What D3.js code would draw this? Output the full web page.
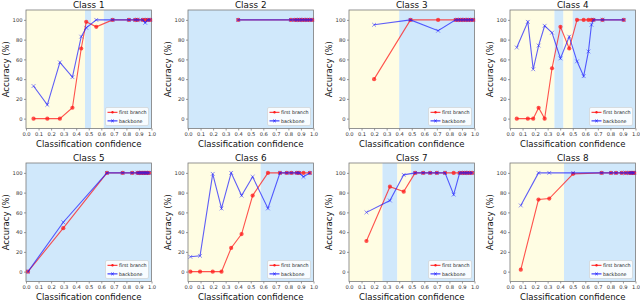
<!DOCTYPE html>
<html>
<head>
<meta charset="UTF-8">
<title>Accuracy vs classification confidence</title>
<style>
  body { margin: 0; background: #fff; font-family: "DejaVu Sans", sans-serif; }
  .tick text { fill: #333; }
</style>
</head>
<body>
<svg width="640" height="301"></svg>
<script src="https://d3js.org/d3.v7.min.js"></script>
<script>
// data
const classNames = ["Class 1", "Class 2", "Class 3", "Class 4", "Class 5", "Class 6", "Class 7", "Class 8"];
const seriesNames = ["first branch", "backbone"];
const xTicks = [0, 0.1, 0.2, 0.3, 0.4, 0.5, 0.6, 0.7, 0.8, 0.9, 1.0];
const yTicks = [0, 20, 40, 60, 80, 100];

const class1Conf = [0.06, 0.17, 0.27, 0.37, 0.44, 0.48, 0.56, 0.69, 0.82, 0.87, 0.89, 0.93, 0.95, 0.97, 0.99];
const class1First = [0, 0, 0, 11, 71, 98, 93, 100, 100, 100, 100, 100, 100, 100, 100];
const class1Backbone = [33, 14, 57, 42, 83, 92, 100, 100, 100, 100, 100, 100, 97, 100, 100];
const class1Bands = [[0, 0.47, "y"], [0.47, 0.52, "b"], [0.52, 0.62, "y"], [0.62, 1, "b"]];

const class2Conf = [0.4, 0.82, 0.85, 0.87, 0.89, 0.91, 0.93, 0.95, 0.97, 0.99];
const class2First = [100, 100, 100, 100, 100, 100, 100, 100, 100, 100];
const class2Backbone = [100, 100, 100, 100, 100, 100, 100, 100, 100, 100];
const class2Bands = [[0, 1, "b"]];

const class3Conf = [0.2, 0.49, 0.71, 0.85, 0.87, 0.89, 0.91, 0.93, 0.95, 0.97, 0.99];
const class3First = [40, 100, 100, 100, 100, 100, 100, 100, 100, 100, 100];
const class3Backbone = [95, 100, 89, 100, 100, 100, 100, 100, 100, 100, 100];
const class3Bands = [[0, 0.4, "y"], [0.4, 1, "b"]];

const class4Conf = [0.054, 0.142, 0.185, 0.228, 0.276, 0.335, 0.402, 0.472, 0.534, 0.587, 0.625, 0.649, 0.665, 0.737, 0.906];
const class4First = [0, 0, 0, 11, 0, 51, 93, 71, 100, 100, 100, 100, 100, 100, 100];
const class4Backbone = [72, 98, 50, 74, 94, 87, 61, 83, 58, 43, 68, 95, 100, 100, 100];
const class4Bands = [[0, 0.354, "y"], [0.354, 0.426, "b"], [0.426, 0.5, "y"], [0.5, 1, "b"]];

const class5Conf = [0.016, 0.297, 0.645, 0.77, 0.846, 0.889, 0.902, 0.916, 0.929, 0.942, 0.955, 0.968, 0.981];
const class5First = [0, 44, 100, 100, 100, 100, 100, 100, 100, 100, 100, 100, 100];
const class5Backbone = [0, 50, 100, 100, 100, 100, 100, 100, 100, 100, 100, 100, 100];
const class5Bands = [[0, 1, "b"]];

const class6Conf = [0.019, 0.096, 0.197, 0.267, 0.344, 0.427, 0.515, 0.637, 0.733, 0.787, 0.824, 0.867, 0.885, 0.92, 0.971];
const class6First = [0, 0, 0, 0, 24, 38, 77, 100, 100, 100, 100, 100, 100, 100, 100];
const class6Backbone = [15, 16, 99, 64, 100, 77, 96, 64, 100, 100, 100, 100, 100, 96, 100];
const class6Bands = [[0, 0.579, "y"], [0.579, 1, "b"]];

const class7Conf = [0.139, 0.326, 0.436, 0.527, 0.591, 0.647, 0.70, 0.765, 0.834, 0.882, 0.903, 0.922, 0.941, 0.96, 0.981];
const class7First = [31, 86, 81, 100, 100, 100, 100, 100, 100, 100, 100, 100, 100, 100, 100];
const class7Backbone = [60, 72, 98, 100, 100, 100, 100, 100, 78, 100, 100, 100, 100, 100, 100];
const class7Bands = [[0, 0.267, "y"], [0.267, 0.385, "b"], [0.385, 0.495, "y"], [0.495, 1, "b"]];

const class8Conf = [0.086, 0.227, 0.313, 0.503, 0.73, 0.805, 0.845, 0.89, 0.922, 0.949, 0.965, 0.979, 0.99];
const class8First = [2, 73, 74, 99, 100, 100, 100, 100, 100, 100, 100, 100, 100];
const class8Backbone = [67, 100, 100, 100, 100, 100, 100, 100, 100, 100, 100, 100, 100];
const class8Bands = [[0, 0.43, "y"], [0.43, 1, "b"]];

const allConf = [class1Conf, class2Conf, class3Conf, class4Conf, class5Conf, class6Conf, class7Conf, class8Conf];
const allFirst = [class1First, class2First, class3First, class4First, class5First, class6First, class7First, class8First];
const allBackbone = [class1Backbone, class2Backbone, class3Backbone, class4Backbone, class5Backbone, class6Backbone, class7Backbone, class8Backbone];
const allBands = [class1Bands, class2Bands, class3Bands, class4Bands, class5Bands, class6Bands, class7Bands, class8Bands];

// layout
const lefts = [26, 188, 349, 510];
const tops = [10, 163];
const pw = 125.5, ph = 118.5;
const bandColor = { y: "#fffde3", b: "#d0e8fb" };
const redC = "#ff1a1a", blueC = "#1a1aff";

const svg = d3.select("svg");

classNames.forEach((name, i) => {
    const col = i % 4, row = Math.floor(i / 4);
    const g = svg.append("g").attr("transform", `translate(${lefts[col]},${tops[row]})`);

    const x = d3.scaleLinear().domain([0, 1]).range([0, pw]);
    const y = d3.scaleLinear().domain([-10, 110]).range([ph, 0]);

    // background bands
    g.selectAll("rect.band").data(allBands[i]).enter().append("rect")
        .attr("class", "band")
        .attr("x", d => x(d[0]))
        .attr("width", d => x(d[1]) - x(d[0]))
        .attr("y", 0).attr("height", ph)
        .attr("fill", d => bandColor[d[2]]);

    // axes
    const xa = g.append("g").attr("transform", `translate(0,${ph})`)
        .call(d3.axisBottom(x).tickValues(xTicks).tickFormat(d3.format(".1f")).tickSize(2).tickPadding(1.5));
    const ya = g.append("g")
        .call(d3.axisLeft(y).tickValues(yTicks).tickSize(2).tickPadding(1.5));
    [xa, ya].forEach(a => {
        a.select(".domain").remove();
        a.selectAll("line").attr("stroke", "#555").attr("stroke-width", 0.6);
        a.selectAll("text").attr("font-size", 5.2).attr("font-family", "DejaVu Sans");
    });

    // frame
    g.append("rect").attr("width", pw).attr("height", ph)
        .attr("fill", "none").attr("stroke", "#7a7a7a").attr("stroke-width", 0.8);

    const pts = allConf[i].map((c, k) => ({ c: c, f: allFirst[i][k], b: allBackbone[i][k] }));

    // first branch
    const lineF = d3.line().x(d => x(d.c)).y(d => y(d.f));
    g.append("path").datum(pts).attr("d", lineF)
        .attr("fill", "none").attr("stroke", redC).attr("stroke-width", 1.1).attr("opacity", 0.75);
    g.selectAll("circle.f").data(pts).enter().append("circle")
        .attr("class", "f")
        .attr("cx", d => x(d.c)).attr("cy", d => y(d.f)).attr("r", 2.1)
        .attr("fill", redC).attr("opacity", 0.75);

    // backbone
    const lineB = d3.line().x(d => x(d.c)).y(d => y(d.b));
    g.append("path").datum(pts).attr("d", lineB)
        .attr("fill", "none").attr("stroke", blueC).attr("stroke-width", 1.1).attr("opacity", 0.7);
    g.selectAll("path.bx").data(pts).enter().append("path")
        .attr("class", "bx")
        .attr("transform", d => `translate(${x(d.c)},${y(d.b)})`)
        .attr("d", "M-1.9,-1.9L1.9,1.9M-1.9,1.9L1.9,-1.9")
        .attr("stroke", blueC).attr("stroke-width", 0.7).attr("opacity", 0.7);

    // title and labels
    g.append("text").attr("x", pw / 2).attr("y", -2.5)
        .attr("text-anchor", "middle").attr("font-size", 8.8).attr("fill", "#111")
        .text(name);
    g.append("text").attr("x", pw / 2).attr("y", ph + 18)
        .attr("text-anchor", "middle").attr("font-size", 8.5).attr("fill", "#111")
        .text("Classification confidence");
    g.append("text")
        .attr("transform", `translate(-17.5,${ph / 2}) rotate(-90)`)
        .attr("text-anchor", "middle").attr("font-size", 8.5).attr("fill", "#111")
        .text("Accuracy (%)");

    // legend
    const lw = 43, lh = 18;
    const lg = g.append("g").attr("transform", `translate(${pw - lw - 3},${ph - lh - 3})`);
    lg.append("rect").attr("width", lw).attr("height", lh).attr("rx", 1.5)
        .attr("fill", "#fff").attr("fill-opacity", 0.85)
        .attr("stroke", "#ccc").attr("stroke-width", 0.6);
    seriesNames.forEach((s, k) => {
        const yy = 4.8 + k * 8.6;
        const c = k === 0 ? redC : blueC;
        lg.append("line").attr("x1", 2).attr("x2", 12).attr("y1", yy).attr("y2", yy)
            .attr("stroke", c).attr("stroke-width", 1);
        if (k === 0) {
            lg.append("circle").attr("cx", 7).attr("cy", yy).attr("r", 1.2).attr("fill", c);
        } else {
            lg.append("path").attr("transform", `translate(7,${yy})`)
                .attr("d", "M-1.3,-1.3L1.3,1.3M-1.3,1.3L1.3,-1.3")
                .attr("stroke", c).attr("stroke-width", 0.8);
        }
        lg.append("text").attr("x", 13.5).attr("y", yy + 1.7)
            .attr("font-size", 4.8).attr("fill", "#222").text(s);
    });
});
</script>
</body>
</html>
